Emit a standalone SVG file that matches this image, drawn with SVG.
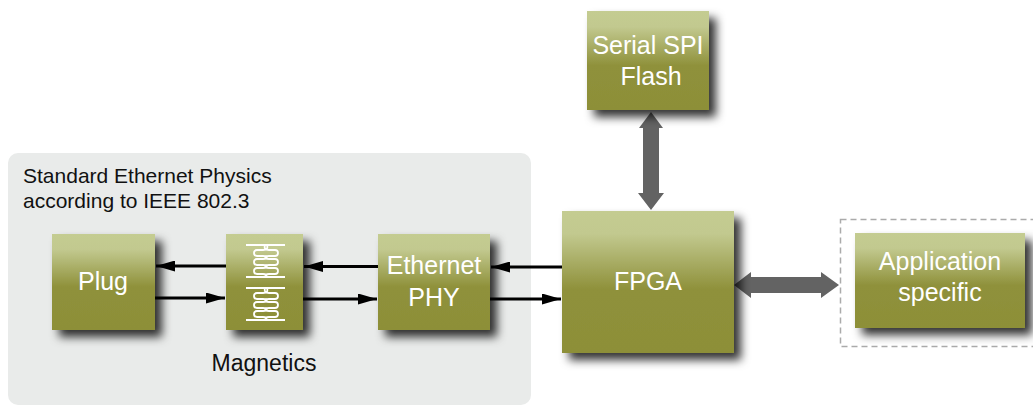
<svg xmlns="http://www.w3.org/2000/svg" width="1033" height="405" viewBox="0 0 1033 405">
<style>
.box{fill:url(#g);filter:url(#s)}
.w{font-family:"Liberation Sans",Arial,sans-serif;font-size:25px;fill:#fff;text-anchor:middle}
.k{font-family:"Liberation Sans",Arial,sans-serif;font-size:21px;fill:#111}
.thin{stroke:#000;stroke-width:3.2;fill:none}
.big{fill:#636363}
.coil{fill:none;stroke:#fff;stroke-width:1.8}
</style>
<defs>
<linearGradient id="g" x1="0" y1="0" x2="0" y2="1">
<stop offset="0" stop-color="#c4cc91"/><stop offset=".16" stop-color="#c2c98f"/><stop offset=".55" stop-color="#8f913b"/><stop offset="1" stop-color="#8d8f38"/>
</linearGradient>
<filter id="s" x="-20%" y="-20%" width="150%" height="150%">
<feDropShadow dx="7" dy="7" stdDeviation="5" flood-color="#000" flood-opacity=".8"/>
</filter>
<marker id="a" markerUnits="userSpaceOnUse" markerWidth="20" markerHeight="11" refX="19" refY="5.5" orient="auto-start-reverse"><path d="M0 0L19 5.5L0 11z" fill="#000"/></marker>
<g id="coil">
<path class="coil" stroke-width="2" d="M246 0H285M246 32H285"/>
<path class="coil" d="M267 0C268 3 267 5 263 5H257C253 5 253 11 257 11H263C268 11 268 14 263 14H257C253 14 253 20 257 20H263C268 20 268 23 263 23H257C253 23 253 29 257 29H263C266 29 267 30 266 32"/>
<path class="coil" d="M265 0C264 3 265 5 269 5H275C279 5 279 11 275 11H269C264 11 264 14 269 14H275C279 14 279 20 275 20H269C264 20 264 23 269 23H275C279 23 279 29 275 29H269C266 29 265 30 266 32"/>
</g>
</defs>
<g id="physics-panel">
<rect x="8" y="153" width="523" height="252" rx="10" fill="#e9ebea"/>
<text class="k" x="23" y="183">Standard Ethernet Physics</text>
<text class="k" x="23" y="208">according to IEEE 802.3</text>
<text class="k" x="264" y="371" text-anchor="middle" style="font-size:23px">Magnetics</text>
</g>
<g id="app-boundary"><rect x="840.5" y="219.5" width="210" height="127" fill="none" stroke="#aaa" stroke-width="1.5" stroke-dasharray="6 4"/></g>
<g id="connectors">
<path class="thin" d="M226 266H156" marker-end="url(#a)"/>
<path class="thin" d="M155 298H225" marker-end="url(#a)"/>
<path class="thin" d="M378 266.500H304" marker-end="url(#a)"/>
<path class="thin" d="M303 299H377" marker-end="url(#a)"/>
<path class="thin" d="M562 267H491" marker-end="url(#a)"/>
<path class="thin" d="M489 299H561" marker-end="url(#a)"/>
<path class="big" d="M651 112L663 128H659V193H664L651 210L638 193H643V128H639z"/>
<path class="big" d="M734 285L751 272V277H821V272L839 285L821 298V293H751V298z"/>
</g>
<g id="plug"><rect class="box" x="52" y="234" width="103" height="96"/><text class="w" x="103" y="290">Plug</text></g>
<g id="magnetics"><rect class="box" x="226" y="234" width="77" height="96"/>
<use href="#coil" y="245"/><use href="#coil" y="288"/></g>
<g id="ethernet-phy"><rect class="box" x="378" y="234" width="112" height="96"/><text class="w" x="434" y="274">Ethernet</text><text class="w" x="434" y="306">PHY</text></g>
<g id="fpga"><rect class="box" x="562" y="211" width="172" height="142"/><text class="w" x="648" y="290">FPGA</text></g>
<g id="flash"><rect class="box" x="587" y="11" width="122" height="99"/><text class="w" x="648" y="54">Serial SPI</text><text class="w" x="651" y="85">Flash</text></g>
<g id="application"><rect class="box" x="855" y="233" width="170" height="95"/><text class="w" x="940" y="270">Application</text><text class="w" x="940" y="301">specific</text></g>
</svg>
